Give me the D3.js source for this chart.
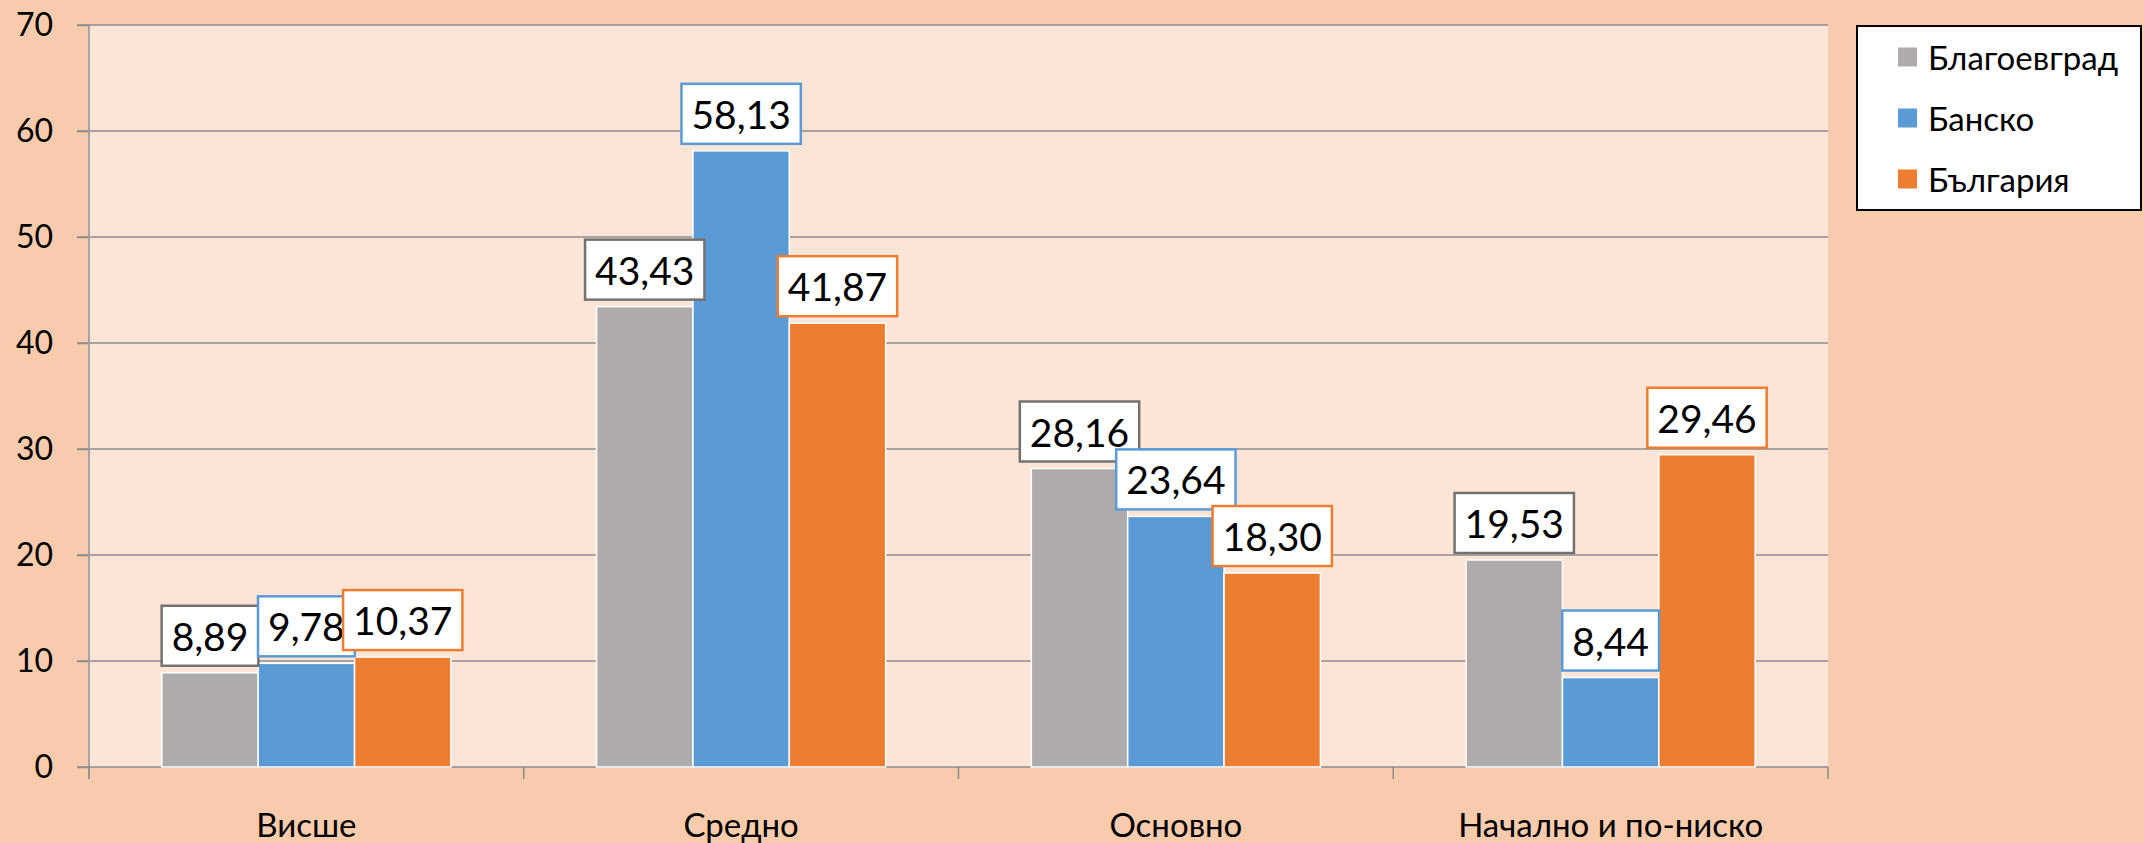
<!DOCTYPE html>
<html><head><meta charset="utf-8">
<script src="https://cdn.jsdelivr.net/npm/d3@7"></script>
<style>
html,body{margin:0;padding:0;background:#f8cbad;}
svg{display:block;font-family:Lato,"Open Sans",sans-serif;}
</style></head>
<body>
<svg id="chart" width="2144" height="843"></svg>
<script>
const categories = ["Висше", "Средно", "Основно", "Начално и по-ниско"];
const seriesNames = ["Благоевград", "Банско", "България"];
const blagoevgrad = [8.89, 43.43, 28.16, 19.53];
const bansko = [9.78, 58.13, 23.64, 8.44];
const bulgaria = [10.37, 41.87, 18.30, 29.46];
const yTicks = [0, 10, 20, 30, 40, 50, 60, 70];

const seriesValues = [blagoevgrad, bansko, bulgaria];
const colors = ["#afabab", "#5b9bd5", "#ed7d31"];
const labelBorders = ["#767171", "#5b9bd5", "#ed7d31"];

const W = 2144, H = 843;
const plot = {left: 89, right: 1828, top: 25, bottom: 767};
const svg = d3.select("#chart");

svg.append("rect").attr("width", W).attr("height", H).attr("fill", "#f8cbad");
svg.append("rect").attr("x", plot.left).attr("y", plot.top)
  .attr("width", plot.right - plot.left).attr("height", plot.bottom - plot.top)
  .attr("fill", "#fbe5d6");

const y = d3.scaleLinear().domain([0, 70]).range([plot.bottom, plot.top]);
const x0 = d3.scaleBand().domain(categories).range([plot.left, plot.right]).paddingInner(0).paddingOuter(0);
const groupW = x0.bandwidth() * 0.665;
const x1 = d3.scaleBand().domain(d3.range(3)).range([0, groupW]).padding(0);

// gridlines
svg.append("g").selectAll("line").data(yTicks.filter(d => d > 0)).join("line")
  .attr("x1", plot.left - 12).attr("x2", plot.right)
  .attr("y1", d => y(d)).attr("y2", d => y(d))
  .attr("stroke", "#8c8c8c").attr("stroke-width", 1.5);

// y axis
const yAxis = d3.axisLeft(y).tickValues(yTicks).tickSize(12).tickPadding(24).tickFormat(d3.format("d"));
const gy = svg.append("g").attr("transform", `translate(${plot.left},0)`).call(yAxis);
gy.select(".domain").attr("stroke", "#a6a6a6").attr("stroke-width", 2)
  .attr("d", `M0,${plot.top}V${plot.bottom + 12}`);
gy.selectAll(".tick line").attr("stroke", "#8c8c8c").attr("stroke-width", 1.5);
gy.selectAll(".tick text").attr("font-size", 32).attr("fill", "#000").attr("font-family", "Lato");

// x axis
const xAxis = d3.axisBottom(x0).tickSize(0).tickPadding(0);
const gx = svg.append("g").attr("transform", `translate(0,${plot.bottom})`).call(xAxis);
gx.select(".domain").attr("stroke", "#8c8c8c").attr("stroke-width", 1.5)
  .attr("d", `M${plot.left - 12},0H${plot.right}`);
gx.selectAll(".tick text").attr("font-size", 33).attr("fill", "#000").attr("font-family", "Lato")
  .attr("dy", null).attr("y", 70);
// category boundary ticks
const bounds = categories.map(c => x0(c)).concat([plot.right]);
svg.append("g").selectAll("line").data(bounds).join("line")
  .attr("x1", d => d).attr("x2", d => d)
  .attr("y1", plot.bottom).attr("y2", plot.bottom + 12)
  .attr("stroke", "#8c8c8c").attr("stroke-width", 1.5);

// bars
const fmt = v => d3.format(".2f")(v).replace(".", ",");
const groups = svg.append("g").selectAll("g").data(categories).join("g")
  .attr("transform", c => `translate(${x0(c) + (x0.bandwidth() - groupW) / 2},0)`);

groups.each(function(c, ci) {
  const g = d3.select(this);
  seriesValues.forEach((vals, si) => {
    const v = vals[ci];
    g.append("rect")
      .attr("x", x1(si)).attr("y", y(v))
      .attr("width", x1.bandwidth()).attr("height", y(0) - y(v))
      .attr("fill", colors[si]).attr("stroke", "#ffffff").attr("stroke-width", 1.5);
  });
});

// data labels
const labelLayer = svg.append("g");
categories.forEach((c, ci) => {
  const gx0 = x0(c) + (x0.bandwidth() - groupW) / 2;
  seriesValues.forEach((vals, si) => {
    const v = vals[ci];
    const cx = gx0 + x1(si) + x1.bandwidth() / 2;
    const bottom = y(v) - 7;
    const g = labelLayer.append("g");
    const t = g.append("text").attr("x", cx).attr("y", bottom - 30)
      .attr("text-anchor", "middle").attr("dominant-baseline", "central")
      .attr("font-size", 39).attr("font-family", "Lato").attr("fill", "#000")
      .text(fmt(v));
    const tw = t.node().getComputedTextLength();
    const bw = tw + 20;
    g.insert("rect", "text").attr("x", cx - bw / 2).attr("y", bottom - 60)
      .attr("width", bw).attr("height", 60)
      .attr("fill", "#ffffff").attr("stroke", labelBorders[si]).attr("stroke-width", 2.5);
  });
});

// legend
const lg = svg.append("g");
lg.append("rect").attr("x", 1857).attr("y", 26).attr("width", 284).attr("height", 184)
  .attr("fill", "#ffffff").attr("stroke", "#000").attr("stroke-width", 2);
const rowY = d3.scalePoint().domain(seriesNames).range([57, 179]);
seriesNames.forEach((n, i) => {
  lg.append("rect").attr("x", 1898).attr("y", rowY(n) - 9.5).attr("width", 19).attr("height", 19)
    .attr("fill", colors[i]);
  lg.append("text").attr("x", 1928).attr("y", rowY(n)).attr("dominant-baseline", "central")
    .attr("font-size", 33).attr("font-family", "Lato").attr("fill", "#000").text(n);
});
</script>
</body></html>
